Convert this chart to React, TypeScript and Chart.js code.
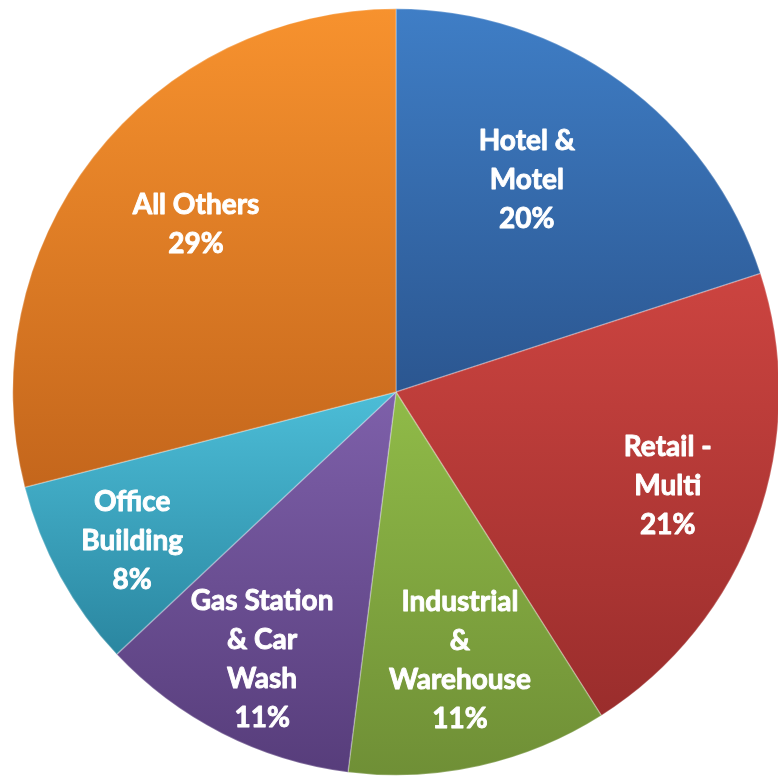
import React, { useEffect, useRef } from "react";
import { Chart, registerables } from "chart.js";

Chart.register(...registerables);

const categories = [
  "Hotel & Motel",
  "Retail - Multi",
  "Industrial & Warehouse",
  "Gas Station & Car Wash",
  "Office Building",
  "All Others",
];
const values = [20, 21, 11, 11, 8, 29];
const labelLines = [
  ["Hotel &", "Motel"],
  ["Retail -", "Multi"],
  ["Industrial", "&", "Warehouse"],
  ["Gas Station", "& Car", "Wash"],
  ["Office", "Building"],
  ["All Others"],
];
const topColors = ["#3F7EC6", "#CC4440", "#90BB48", "#7E60AA", "#4CBDD7", "#F7922E"];
const bottomColors = ["#2B5690", "#9A2D2C", "#6F8F36", "#573D7B", "#2A86A0", "#C4661C"];

// label placement along the slice (fraction of angle, fraction of radius)
const angleFrac = [0.44, 0.49, 0.48, 0.49, 0.48, 0.52];
const radiusFrac = [0.65, 0.75, 0.72, 0.78, 0.79, 0.68];

function sliceYRange(i: number, cy: number, r: number) {
  const total = values.reduce((a, b) => a + b, 0);
  let before = 0;
  for (let k = 0; k < i; k++) before += values[k];
  const a0 = -Math.PI / 2 + (before / total) * Math.PI * 2;
  const a1 = a0 + (values[i] / total) * Math.PI * 2;
  const ys = [cy, cy + Math.sin(a0) * r, cy + Math.sin(a1) * r];
  for (const c of [-Math.PI / 2, Math.PI / 2, (3 * Math.PI) / 2]) {
    if (c >= a0 && c <= a1) ys.push(cy + Math.sin(c) * r);
  }
  return [Math.min(...ys), Math.max(...ys)];
}

const labelPlugin = {
  id: "sliceLabels",
  afterDatasetsDraw(chart: any) {
    const ctx = chart.ctx;
    const meta = chart.getDatasetMeta(0);
    ctx.save();
    ctx.fillStyle = "#FFFFFF";
    ctx.strokeStyle = "#FFFFFF";
    ctx.lineWidth = 0.9;
    ctx.lineJoin = "round";
    ctx.font = "bold 28px Lato";
    ctx.textAlign = "center";
    ctx.textBaseline = "middle";
    const lh = 39;
    meta.data.forEach((arc: any, i: number) => {
      const { x, y, startAngle, endAngle, outerRadius } = arc.getProps(
        ["x", "y", "startAngle", "endAngle", "outerRadius"],
        true
      );
      const a = startAngle + (endAngle - startAngle) * angleFrac[i];
      const rr = outerRadius * radiusFrac[i];
      const px = x + Math.cos(a) * rr;
      const py = y + Math.sin(a) * rr;
      const lines = [...labelLines[i], values[i] + "%"];
      const start = py - ((lines.length - 1) * lh) / 2;
      lines.forEach((t, k) => {
        ctx.strokeText(t, px, start + k * lh);
        ctx.fillText(t, px, start + k * lh);
      });
    });
    ctx.restore();
  },
};

export default function App() {
  const ref = useRef<HTMLCanvasElement | null>(null);
  useEffect(() => {
    if (!ref.current) return;
    const chart = new Chart(ref.current, {
      type: "pie",
      data: {
        labels: categories,
        datasets: [
          {
            data: values,
            backgroundColor: (c: any) => {
              const ch = c.chart;
              const area = ch.chartArea;
              const i = c.dataIndex;
              if (!area || i === undefined) return topColors[i ?? 0];
              const cy = (area.top + area.bottom) / 2;
              const r = Math.min(area.right - area.left, area.bottom - area.top) / 2;
              const [y0, y1] = sliceYRange(i, cy, r);
              const g = ch.ctx.createLinearGradient(0, y0, 0, y1);
              g.addColorStop(0, topColors[i]);
              g.addColorStop(1, bottomColors[i]);
              return g;
            },
            borderColor: "rgba(255,255,255,0.25)",
            borderWidth: 1.5,
          },
        ],
      },
      options: {
        responsive: false,
        devicePixelRatio: 1,
        animation: false,
        layout: { padding: 0 },
        plugins: { legend: { display: false }, tooltip: { enabled: false } },
      },
      plugins: [labelPlugin],
    });
    return () => chart.destroy();
  }, []);
  return (
    <div
      style={{
        position: "fixed",
        left: 12,
        top: 8,
        width: 766,
        height: 769,
        overflow: "hidden",
      }}
    >
      <canvas ref={ref} width={768} height={768} style={{ display: "block" }} />
    </div>
  );
}
